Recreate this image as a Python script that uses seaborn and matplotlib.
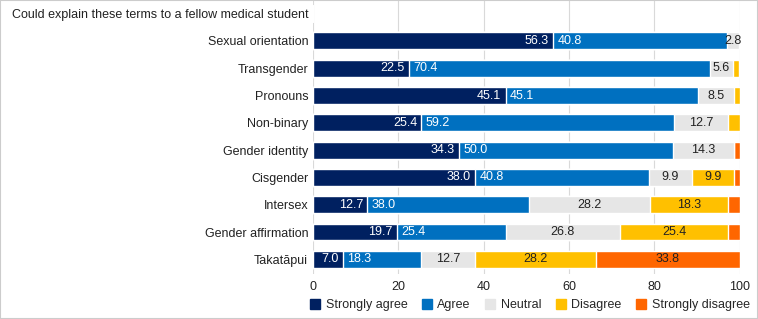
import matplotlib.pyplot as plt
import numpy as np
import pandas as pd
import seaborn as sns
from matplotlib.lines import Line2D

sns.set_style("white")
plt.rcParams['font.family'] = ['Liberation Sans', 'DejaVu Sans']

header = "Could explain these terms to a fellow medical student"
terms = ["Sexual orientation", "Transgender", "Pronouns", "Non-binary", "Gender identity",
         "Cisgender", "Intersex", "Gender affirmation", "Takatāpui"]
levels = ["Strongly agree", "Agree", "Neutral", "Disagree", "Strongly disagree"]
colors = ["#002060", "#0070C0", "#E6E6E6", "#FFC000", "#FF6600"]
text_colors = ["white", "white", "#222222", "#222222", "#222222"]

strongly_agree = [56.3, 22.5, 45.1, 25.4, 34.3, 38.0, 12.7, 19.7, 7.0]
agree = [40.8, 70.4, 45.1, 59.2, 50.0, 40.8, 38.0, 25.4, 18.3]
neutral = [2.8, 5.6, 8.5, 12.7, 14.3, 9.9, 28.2, 26.8, 12.7]
disagree = [0.0, 1.4, 1.4, 2.8, 0.0, 9.9, 18.3, 25.4, 28.2]
strongly_disagree = [0.0, 0.0, 0.0, 0.0, 1.4, 1.4, 2.8, 2.8, 33.8]

cats = [header] + terms
vals = np.array([strongly_agree, agree, neutral, disagree, strongly_disagree])
vals = np.hstack([np.zeros((5, 1)), vals])
cum = np.cumsum(vals, axis=0)

df = pd.DataFrame({"term": cats})
for i, lv in enumerate(levels):
    df[lv] = cum[i]

fig = plt.figure(figsize=(7.58, 3.19), dpi=100)
ax = fig.add_axes([0.413, 0.14, 0.563, 0.86])

# stacked look: draw cumulative totals from the widest down
for i in range(4, -1, -1):
    sns.barplot(data=df, x=levels[i], y="term", color=colors[i], orient="h",
                width=0.62, saturation=1, ax=ax, zorder=2, order=cats)

for r in range(1, len(cats)):
    for i in range(5):
        v = vals[i, r]
        if v < 5 and not (i == 2 and v >= 2.5):
            continue
        start = cum[i, r] - v
        if i == 0:
            ax.text(cum[i, r] - 1.0, r, f"{v:.1f}", ha="right", va="center",
                    color=text_colors[i], fontsize=9)
        elif i == 1:
            ax.text(start + 1.0, r, f"{v:.1f}", ha="left", va="center",
                    color=text_colors[i], fontsize=9)
        else:
            ax.text(start + v / 2, r, f"{v:.1f}", ha="center", va="center",
                    color=text_colors[i], fontsize=9)

ax.set_xlim(0, 100)
ax.set_ylim(len(cats) - 0.45, -0.5)
ax.set_xticks([0, 20, 40, 60, 80, 100])
ax.xaxis.grid(True, color="#D9D9D9", lw=0.8, zorder=0)
ax.set_axisbelow(True)
ax.set_xlabel("")
ax.set_ylabel("")
ax.tick_params(axis="both", length=0, labelsize=9, colors="#222222")
ax.tick_params(axis="x", pad=5)
for s in ax.spines.values():
    s.set_visible(False)

handles = [Line2D([], [], marker="s", ls="", color=c, markersize=7) for c in colors]
fig.legend(handles, levels, loc="lower left", bbox_to_anchor=(0.395, -0.01), ncol=5,
           frameon=False, fontsize=9, handlelength=0.7, handletextpad=0.5,
           columnspacing=1.2)

fig.patches.append(plt.Rectangle((0, 0), 1, 1, transform=fig.transFigure, fill=False,
                                 edgecolor="#CCCCCC", lw=1.5))
fig.savefig("out.png", dpi=100)
